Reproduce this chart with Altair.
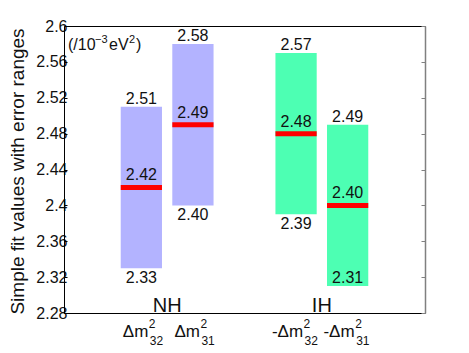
import altair as alt
import pandas as pd

# ---- data ----
groups = ["NH", "NH", "IH", "IH"]
prefixes = ["Δm", "Δm", "-Δm", "-Δm"]
supers = ["2", "2", "2", "2"]
subs = ["32", "31", "32", "31"]
best = [2.42, 2.49, 2.48, 2.40]
low = [2.33, 2.40, 2.39, 2.31]
high = [2.51, 2.58, 2.57, 2.49]
y_ticks = [2.28, 2.32, 2.36, 2.40, 2.44, 2.48, 2.52, 2.56, 2.60]
group_names = ["NH", "IH"]
group_colors = ["#b3b3ff", "#4dffb3"]
ann_parts = ["(/10", "−3", "eV", "2", ")"]
y_title = "Simple fit values with error ranges"

FONT = "Liberation Sans"
INK = "#111111"

# slot positions derived from group structure
pos = []
count = {}
for g in groups:
    gi = group_names.index(g)
    mi = count.get(g, 0)
    count[g] = mi + 1
    pos.append(1.5 + 3 * gi + mi)

df = pd.DataFrame({
    "group": groups, "prefix": prefixes, "sup": supers, "sub": subs,
    "best": best, "low": low, "high": high, "pos": pos,
})
df["x0"] = df["pos"] - 0.4
df["x1"] = df["pos"] + 0.4

gdf = pd.DataFrame({"name": group_names,
                    "center": [2 + 3 * i for i in range(len(group_names))]})

xs = alt.Scale(domain=[0, 7], nice=False, zero=False)
ys = alt.Scale(domain=[2.28, 2.6], nice=False, zero=False)

base = alt.Chart(df)

bars = base.mark_rect().encode(
    x=alt.X("x0:Q", scale=xs, axis=alt.Axis(orient="bottom", ticks=False, labels=False,
                                             title=None, domainColor="black", domainWidth=1)),
    x2="x1",
    y=alt.Y("low:Q", scale=ys, axis=alt.Axis(orient="left", ticks=False, tickSize=0,
                                              labelPadding=-3, values=y_ticks, format=".2~f",
                                              title=y_title, titleX=-41, titleY=145,
                                              titleBaseline="alphabetic", titleAngle=270,
                                              domainColor="black", domainWidth=1)),
    y2="high",
    color=alt.Color("group:N", scale=alt.Scale(domain=group_names, range=group_colors),
                    legend=None),
)

red = base.mark_rule(color="#ff0000", strokeWidth=5).encode(
    x=alt.X("x0:Q", scale=xs, axis=alt.Axis(orient="top", ticks=False, labels=False,
                                             title=None, domainColor="black", domainWidth=1)),
    x2="x1",
    y=alt.Y("best:Q", scale=ys, axis=alt.Axis(orient="right", ticks=False, labels=False,
                                               title=None, domainColor="#808080",
                                               domainWidth=1.5)),
)

txt = dict(font=FONT, fontSize=16, color=INK, align="center", baseline="alphabetic")

top_lbl = base.mark_text(dy=-3, **txt).encode(
    x=alt.X("pos:Q", scale=xs, axis=None),
    y=alt.Y("high:Q", scale=ys, axis=alt.Axis(orient="left", offset=-3, ticks=True,
                                               tickSize=3, tickColor="black", domain=False,
                                               labels=False, title=None, values=y_ticks)),
    text=alt.Text("high:Q", format=".2f"),
)

mid_lbl = base.mark_text(dy=-7, **txt).encode(
    x=alt.X("pos:Q", scale=xs, axis=None),
    y=alt.Y("best:Q", scale=ys, axis=alt.Axis(orient="right", offset=-4, ticks=True,
                                               tickSize=4, tickColor="#808080", domain=False,
                                               labels=False, title=None, values=y_ticks)),
    text=alt.Text("best:Q", format=".2f"),
)

low_out = base.transform_filter("datum.low >= 2.32").mark_text(dy=15, **txt).encode(
    x=alt.X("pos:Q", scale=xs, axis=None),
    y=alt.Y("low:Q", scale=ys, axis=None),
    text=alt.Text("low:Q", format=".2f"),
)
low_in = base.transform_filter("datum.low < 2.32").mark_text(dy=-3, **txt).encode(
    x=alt.X("pos:Q", scale=xs, axis=None),
    y=alt.Y("low:Q", scale=ys, axis=None),
    text=alt.Text("low:Q", format=".2f"),
)

grp = alt.Chart(gdf).mark_text(font=FONT, fontSize=20, color=INK, align="center",
                               baseline="alphabetic").encode(
    x=alt.X("center:Q", scale=xs, axis=None),
    y=alt.value(285.7),
    text="name:N",
)

cat_main = base.mark_text(font=FONT, fontSize=17, color=INK, align="right",
                          baseline="alphabetic", dx=7).encode(
    x=alt.X("pos:Q", scale=xs, axis=None), y=alt.value(311), text="prefix:N")
cat_sup = base.mark_text(font=FONT, fontSize=12, color=INK, align="left",
                         baseline="alphabetic", dx=7.5).encode(
    x=alt.X("pos:Q", scale=xs, axis=None), y=alt.value(302.3), text="sup:N")
cat_sub = base.mark_text(font=FONT, fontSize=12, color=INK, align="left",
                         baseline="alphabetic", dx=8.5).encode(
    x=alt.X("pos:Q", scale=xs, axis=None), y=alt.value(319), text="sub:N")

ann_layout = [(4, 24.3, 16), (31, 16.7, 11), (45, 24.3, 16), (65, 16.7, 11), (72, 24.3, 16)]
ann_layers = []
for part, (ax, ay, fs) in zip(ann_parts, ann_layout):
    ann_layers.append(
        alt.Chart(pd.DataFrame({"t": [part]})).mark_text(
            font=FONT, fontSize=fs, color=INK, align="left", baseline="alphabetic"
        ).encode(x=alt.value(ax), y=alt.value(ay), text="t:N")
    )

chart = alt.layer(
    bars, red, top_lbl, mid_lbl, low_out, low_in, grp, cat_main, cat_sup, cat_sub,
    *ann_layers
).resolve_axis(x="independent", y="independent").properties(
    width=361, height=287,
    autosize=alt.AutoSizeParams(type="none"),
    padding={"left": 56, "top": 18, "right": 36, "bottom": 40},
    background="white",
).configure_view(stroke=None).configure_axis(
    grid=False, labelFont=FONT, labelFontSize=16, labelColor=INK,
    titleFont=FONT, titleFontSize=19, titleFontWeight="normal", titleColor=INK,
)

chart.save("out.html", embed_options={"renderer": "svg", "actions": False})
